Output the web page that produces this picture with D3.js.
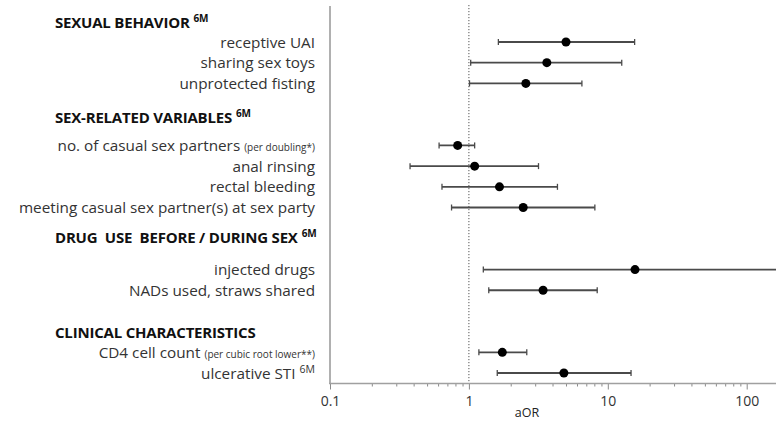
<!DOCTYPE html>
<html>
<head>
<meta charset="utf-8">
<script src="https://cdn.jsdelivr.net/npm/d3@7"></script>
<style>
  html, body { margin: 0; padding: 0; background: #fff; }
  svg { display: block; }
  text { font-family: "Open Sans", Lato, sans-serif; white-space: pre; }
</style>
</head>
<body>
<svg id="chart" width="776" height="421"></svg>
<script>
// ---- data ----
const groups = ["SEXUAL BEHAVIOR", "SEX-RELATED VARIABLES", "DRUG  USE  BEFORE / DURING SEX", "CLINICAL CHARACTERISTICS"];
const groupSup = ["6M", "6M", "6M", ""];
const labels = [
  "receptive UAI", "sharing sex toys", "unprotected fisting",
  "no. of casual sex partners", "anal rinsing", "rectal bleeding", "meeting casual sex partner(s) at sex party",
  "injected drugs", "NADs used, straws shared",
  "CD4 cell count", "ulcerative STI"
];
const labelNotes = ["", "", "", "(per doubling*)", "", "", "", "", "", "(per cubic root lower**)", ""];
const labelSup = ["", "", "", "", "", "", "", "", "", "", "6M"];
const groupOf = [0, 0, 0, 1, 1, 1, 1, 2, 2, 3, 3];
const aOR   = [5.0, 3.64, 2.57, 0.83, 1.10, 1.66, 2.46, 15.7, 3.42, 1.74, 4.83];
const lower = [1.63, 1.03, 1.01, 0.61, 0.377, 0.64, 0.75, 1.27, 1.39, 1.18, 1.60];
const upper = [15.6, 12.6, 6.51, 1.10, 3.17, 4.34, 8.07, 300, 8.39, 2.61, 14.7];
const majorTicks = [0.1, 1, 10, 100];
const xTitle = "aOR";

// ---- layout ----
const W = 776, H = 421;
const svg = d3.select("#chart");
const x = d3.scaleLog().domain([0.1, 100]).range([330, 746.7]);
const axisY = 383.5;

// slot indices: groups separated by two blank rows
const slots = [];
let s = 0;
labels.forEach((d, i) => {
  if (i > 0 && groupOf[i] !== groupOf[i - 1]) s += 3; else if (i > 0) s += 1;
  slots.push(s);
});
const y = d3.scaleLinear().domain([0, 16]).range([42, 373]);
const headerOffset = [-19.3, -28, -32, -20];

// left vertical axis line
svg.append("line")
  .attr("x1", x(0.1)).attr("x2", x(0.1))
  .attr("y1", 6).attr("y2", axisY)
  .attr("stroke", "#b0b0b0").attr("stroke-width", 2);

// reference line at 1
svg.append("line")
  .attr("x1", x(1)).attr("x2", x(1))
  .attr("y1", 5).attr("y2", axisY)
  .attr("stroke", "#555").attr("stroke-width", 1)
  .attr("stroke-dasharray", "1.2,1.8");

// x axis: minor ticks
const minor = [];
for (let e = -1; e <= 2; e++) for (let m = 2; m <= 9; m++) minor.push(m * Math.pow(10, e));
const gMinor = svg.append("g").attr("transform", `translate(0,${axisY})`)
  .call(d3.axisBottom(x).tickValues(minor).tickSize(3).tickFormat(""));
gMinor.select(".domain").remove();
gMinor.selectAll(".tick line").attr("stroke", "#8a8a8a").attr("stroke-width", 1);

const gMajor = svg.append("g").attr("transform", `translate(0,${axisY})`)
  .call(d3.axisBottom(x).tickValues(majorTicks).tickSize(6).tickPadding(7)
    .tickFormat(d => d < 1 ? String(d) : d3.format("d")(d)));
gMajor.select(".domain").remove();
gMajor.selectAll(".tick line").attr("stroke", "#8a8a8a").attr("stroke-width", 1);
gMajor.selectAll(".tick text")
  .attr("font-family", "'Open Sans', sans-serif").attr("font-size", 14).attr("fill", "#333");

svg.append("line")
  .attr("x1", x(0.1) - 1).attr("x2", W)
  .attr("y1", axisY).attr("y2", axisY)
  .attr("stroke", "#a0a0a0").attr("stroke-width", 1.5);

svg.append("text")
  .attr("x", 527).attr("y", 417)
  .attr("text-anchor", "middle").attr("font-size", 12.5).attr("fill", "#222")
  .text(xTitle);

// group headers
groups.forEach((g, gi) => {
  const first = groupOf.indexOf(gi);
  const t = svg.append("text")
    .attr("x", 55).attr("y", y(slots[first]) + headerOffset[gi] + 5.5)
    .attr("font-size", 15).attr("font-weight", 700).attr("fill", "#111")
    .attr("letter-spacing", -0.2);
  t.append("tspan").text(g);
  if (groupSup[gi]) {
    t.append("tspan").attr("dx", 4).attr("dy", -6).attr("font-size", 10).text(groupSup[gi]);
  }
});

// row labels
labels.forEach((l, i) => {
  const t = svg.append("text")
    .attr("x", 315).attr("y", y(slots[i]) + 5.5)
    .attr("text-anchor", "end").attr("font-size", 15.3).attr("fill", "#333");
  t.append("tspan").text(l);
  if (labelNotes[i]) t.append("tspan").attr("dx", 4).attr("font-size", 10).text(labelNotes[i]);
  if (labelSup[i]) t.append("tspan").attr("dx", 4).attr("dy", -6).attr("font-size", 10.5).text(labelSup[i]);
});

// error bars
const rows = labels.map((l, i) => ({ i, lo: lower[i], hi: upper[i], v: aOR[i], y: y(slots[i]) }));
const bars = svg.append("g");
bars.selectAll("line.ci").data(rows).join("line")
  .attr("class", "ci")
  .attr("x1", d => x(d.lo)).attr("x2", d => Math.min(x(d.hi), W + 5))
  .attr("y1", d => d.y).attr("y2", d => d.y)
  .attr("stroke", "#4a4a4a").attr("stroke-width", 1.8);
bars.selectAll("line.capL").data(rows).join("line")
  .attr("class", "capL")
  .attr("x1", d => x(d.lo)).attr("x2", d => x(d.lo))
  .attr("y1", d => d.y - 3).attr("y2", d => d.y + 3)
  .attr("stroke", "#4a4a4a").attr("stroke-width", 1.3);
bars.selectAll("line.capR").data(rows.filter(d => x(d.hi) < W)).join("line")
  .attr("class", "capR")
  .attr("x1", d => x(d.hi)).attr("x2", d => x(d.hi))
  .attr("y1", d => d.y - 3).attr("y2", d => d.y + 3)
  .attr("stroke", "#4a4a4a").attr("stroke-width", 1.3);
bars.selectAll("circle").data(rows).join("circle")
  .attr("cx", d => x(d.v)).attr("cy", d => d.y).attr("r", 4.5)
  .attr("fill", "#000");
</script>
</body>
</html>
